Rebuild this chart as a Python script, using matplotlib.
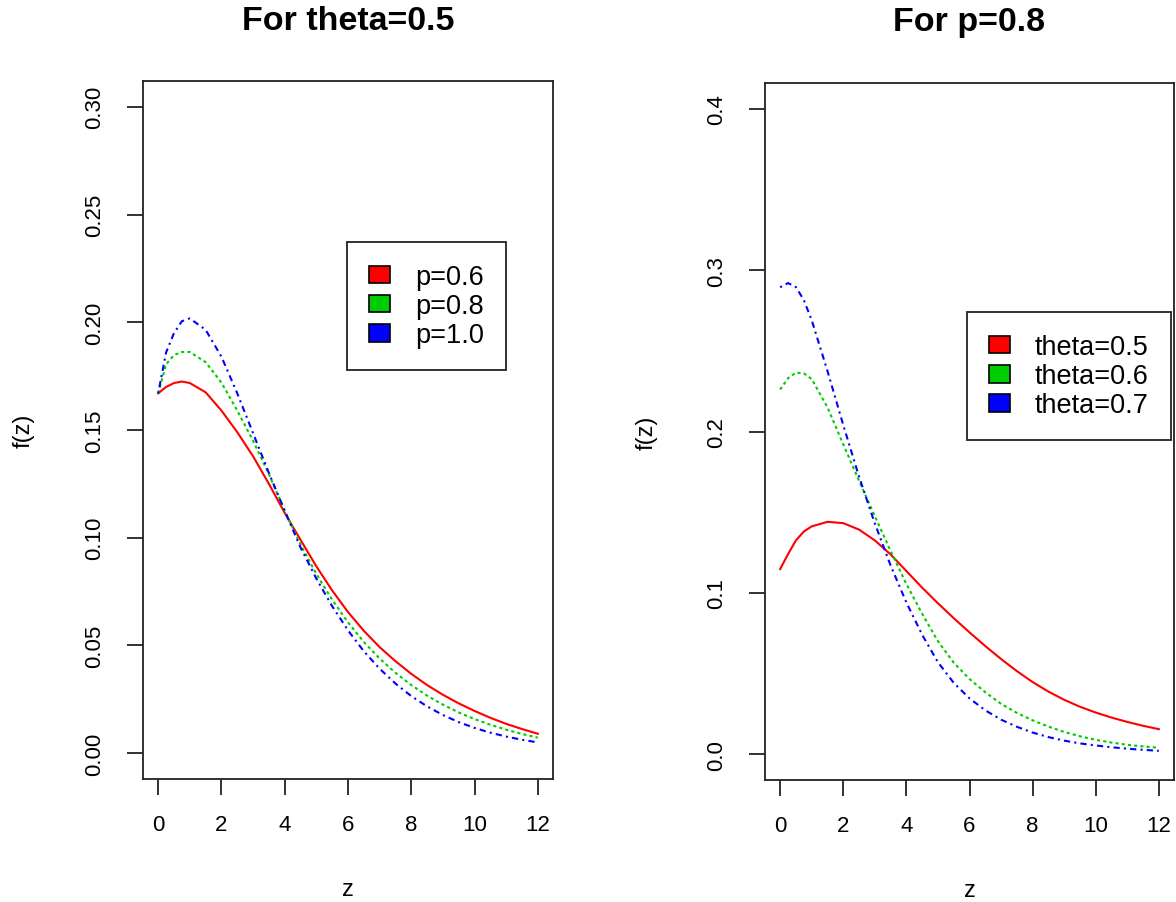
import matplotlib
matplotlib.use("Agg")
import matplotlib.pyplot as plt
from matplotlib.patches import Patch

plt.rcParams['font.family'] = ['Liberation Sans', 'DejaVu Sans']

# z grid shared by every curve
z = [0, 0.25, 0.5, 0.75, 1.0, 1.5, 2.0, 2.5, 3.0, 3.5, 4.0, 4.5, 5.0, 5.5,
     6.0, 6.5, 7.0, 7.5, 8.0, 8.5, 9.0, 9.5, 10.0, 10.5, 11.0, 11.5, 12.0]

# left panel: theta = 0.5, varying p
p_labels = ['p=0.6', 'p=0.8', 'p=1.0']
f_p06 = [0.1670, 0.1700, 0.1718, 0.1725, 0.1718, 0.1675, 0.1590, 0.1490, 0.1378,
         0.1250, 0.1115, 0.0990, 0.0867, 0.0755, 0.0655, 0.0568, 0.0492, 0.0427,
         0.0368, 0.0316, 0.0271, 0.0231, 0.0196, 0.0164, 0.0136, 0.0112, 0.0090]
f_p08 = [0.1670, 0.1805, 0.1848, 0.1862, 0.1862, 0.1815, 0.1720, 0.1590, 0.1450,
         0.1295, 0.1125, 0.0968, 0.0832, 0.0712, 0.0607, 0.0516, 0.0439, 0.0373,
         0.0316, 0.0267, 0.0225, 0.0189, 0.0158, 0.0132, 0.0109, 0.0089, 0.0072]
f_p10 = [0.1670, 0.1860, 0.1950, 0.2005, 0.2018, 0.1965, 0.1840, 0.1670, 0.1485,
         0.1300, 0.1125, 0.0955, 0.0810, 0.0682, 0.0570, 0.0473, 0.0392, 0.0323,
         0.0265, 0.0217, 0.0177, 0.0144, 0.0117, 0.0095, 0.0077, 0.0062, 0.0050]

# right panel: p = 0.8, varying theta
theta_labels = ['theta=0.5', 'theta=0.6', 'theta=0.7']
f_t05 = [0.1147, 0.1240, 0.1325, 0.1380, 0.1412, 0.1440, 0.1432, 0.1392, 0.1325,
         0.1238, 0.1135, 0.1032, 0.0935, 0.0843, 0.0755, 0.0670, 0.0590, 0.0515,
         0.0447, 0.0388, 0.0337, 0.0294, 0.0258, 0.0227, 0.0200, 0.0176, 0.0155]
f_t06 = [0.2260, 0.2330, 0.2365, 0.2360, 0.2325, 0.2150, 0.1920, 0.1695, 0.1475,
         0.1260, 0.1055, 0.0870, 0.0700, 0.0567, 0.0466, 0.0384, 0.0312, 0.0256,
         0.0210, 0.0171, 0.0138, 0.0111, 0.0089, 0.0072, 0.0058, 0.0048, 0.0040]
f_t07 = [0.2894, 0.2920, 0.2895, 0.2815, 0.2690, 0.2375, 0.2040, 0.1720, 0.1430,
         0.1170, 0.0940, 0.0740, 0.0570, 0.0442, 0.0346, 0.0272, 0.0214, 0.0170,
         0.0134, 0.0106, 0.0084, 0.0067, 0.0054, 0.0043, 0.0034, 0.0027, 0.0021]

colors = ['#FF0000', '#00CD00', '#0000FF']
dashes = [None, (1.5, 1.5), (1, 2, 3, 2)]


def draw_panel(ax, curves, labels, yticks, ylabels, ymax, legend_xy):
    for f, col, ds in zip(curves, colors, dashes):
        line, = ax.plot(z, f, color=col, lw=1.5)
        if ds is not None:
            line.set_dashes(ds)

    # R style limits: 4% padding each side
    ax.set_xlim(-0.48, 12.48)
    ax.set_ylim(-0.04 * ymax, 1.04 * ymax)
    ax.set_xticks(range(0, 13, 2))
    ax.set_yticks(yticks)
    ax.set_yticklabels(ylabels)

    for s in ax.spines.values():
        s.set_linewidth(1.3)
        s.set_color('#222222')
    ax.tick_params(axis='both', direction='out', length=11.5, width=1.3,
                   color='#222222', labelsize=16)
    ax.tick_params(axis='x', pad=14)
    ax.tick_params(axis='y', pad=16, labelrotation=90)
    for lab in ax.get_yticklabels():
        lab.set_va('center')

    ax.set_xlabel('z', fontsize=17)
    ax.xaxis.set_label_coords(0.5, -0.158)
    ax.xaxis.label.set_va('center')
    ax.set_ylabel('f(z)', fontsize=17)
    ax.yaxis.set_label_coords(-0.29, 0.5)
    ax.yaxis.label.set_va('center')

    handles = [Patch(facecolor=c, edgecolor='black', lw=1.2) for c in colors]
    leg = ax.legend(handles, labels, loc='upper left', bbox_to_anchor=legend_xy,
                    fontsize=19.5, frameon=True, fancybox=False, framealpha=1,
                    edgecolor='#222222', borderpad=0.8, labelspacing=0.12,
                    handlelength=0.78, handleheight=0.63, handletextpad=0.93,
                    borderaxespad=0)
    leg.get_frame().set_linewidth(1.3)


fig = plt.figure(figsize=(11.76, 9.03), dpi=100)
ax1 = fig.add_axes([143 / 1176, 1 - 780 / 903, 410 / 1176, 698 / 903])
ax2 = fig.add_axes([765 / 1176, 1 - 781 / 903, 409 / 1176, 697 / 903])

draw_panel(ax1, [f_p06, f_p08, f_p10], p_labels,
           [0, 0.05, 0.10, 0.15, 0.20, 0.25, 0.30],
           ['0.00', '0.05', '0.10', '0.15', '0.20', '0.25', '0.30'],
           0.30, (0.4976, 0.769))
draw_panel(ax2, [f_t05, f_t06, f_t07], theta_labels,
           [0, 0.1, 0.2, 0.3, 0.4],
           ['0.0', '0.1', '0.2', '0.3', '0.4'],
           0.40, (0.494, 0.671))

fig.text(348 / 1176, 1 - 22 / 903, 'For theta=0.5', ha='center', va='center',
         fontsize=24.5, fontweight='bold')
fig.text(969 / 1176, 1 - 22 / 903, 'For p=0.8', ha='center', va='center',
         fontsize=24.5, fontweight='bold')

fig.savefig('out.png', dpi=100, facecolor='white')
